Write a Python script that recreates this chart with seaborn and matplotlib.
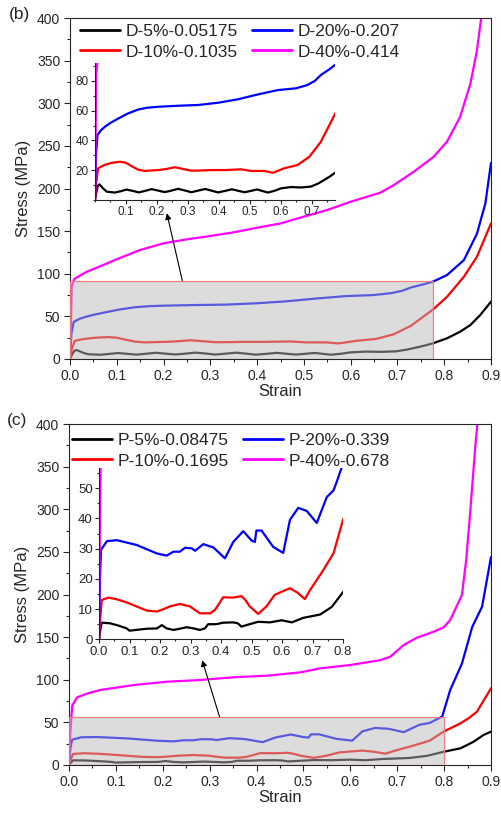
import matplotlib
matplotlib.use("Agg")
import matplotlib.pyplot as plt
import matplotlib.patches as mpatches
from matplotlib.ticker import MultipleLocator, FixedLocator
import seaborn as sns
import pandas as pd

sns.set_style("ticks")
plt.rcParams['font.family'] = ['Liberation Sans', 'DejaVu Sans']
plt.rcParams['axes.linewidth'] = 0.8

# ---------------- data: panel (b) ----------------
labels_b = ["D-5%-0.05175", "D-10%-0.1035", "D-20%-0.207", "D-40%-0.414"]
colors = ["#000000", "#ff0000", "#0000ff", "#ff00ff"]

d5_strain = [0, 0.004, 0.009, 0.0145, 0.025, 0.038, 0.065, 0.085, 0.102, 0.122, 0.142, 0.163,
             0.183, 0.204, 0.225, 0.247, 0.268, 0.29, 0.311, 0.333, 0.356, 0.376, 0.397, 0.42,
             0.442, 0.462, 0.483, 0.503, 0.523, 0.54, 0.558, 0.58, 0.60, 0.633, 0.665, 0.697,
             0.72, 0.74, 0.76, 0.777, 0.806, 0.834, 0.856, 0.877, 0.9]
d5_stress = [0, 5, 9.5, 10.5, 8, 5.6, 5.0, 6.0, 7.0, 6.1, 5.1, 6.2, 7.3, 6.3, 5.3, 6.3, 7.5, 6.4,
             5.2, 6.3, 7.4, 6.3, 5.1, 6.1, 7.2, 6.2, 5.2, 6.1, 7.1, 6.1, 5.0, 6.2, 7.8, 8.7, 8.4,
             9.0, 11, 13.4, 16, 18.6, 24.3, 32, 39.9, 51.6, 67.2]

d10_strain = [0, 0.004, 0.01, 0.03, 0.055, 0.081, 0.1, 0.12, 0.14, 0.161, 0.18, 0.204, 0.23,
              0.258, 0.285, 0.311, 0.34, 0.376, 0.42, 0.472, 0.504, 0.547, 0.574, 0.59, 0.611,
              0.654, 0.692, 0.729, 0.777, 0.806, 0.842, 0.870, 0.9]
d10_stress = [0, 12, 21.3, 23.5, 25, 25.7, 25, 22.5, 20.3, 19.5, 19.8, 20.1, 20.8, 22, 20.8,
              19.7, 19.8, 20.1, 20.1, 20.6, 19.5, 19.5, 18.3, 19.5, 21.3, 23.5, 29, 39, 58.5,
              73, 96.5, 120, 159]

d20_strain = [0, 0.003, 0.008, 0.02, 0.032, 0.05, 0.076, 0.105, 0.14, 0.17, 0.204, 0.268, 0.333,
              0.397, 0.461, 0.526, 0.59, 0.649, 0.686, 0.71, 0.729, 0.755, 0.777, 0.806, 0.842,
              0.87, 0.888, 0.9]
d20_stress = [0, 30, 43.6, 47, 49.2, 51.8, 54.8, 58, 60.8, 62, 62.6, 63.3, 63.8, 65.3, 67.6,
              70.9, 73.8, 75, 77.2, 80, 83.9, 87.5, 91, 98.5, 116, 147, 182.6, 230]

d40_strain = [0, 0.002, 0.0036, 0.0086, 0.02, 0.036, 0.07, 0.1, 0.15, 0.2, 0.25, 0.3, 0.35, 0.4,
              0.45, 0.5, 0.55, 0.6, 0.663, 0.692, 0.735, 0.777, 0.806, 0.834, 0.856, 0.87,
              0.879, 0.886]
d40_stress = [0, 40, 84.8, 93.5, 97.5, 102.4, 110, 117, 127.9, 135.7, 140.4, 144.3, 148.6, 154,
              159, 167, 174.8, 184.5, 195, 204, 219.7, 237, 255, 284, 323, 362, 400, 440]

# ---------------- data: panel (c) ----------------
labels_c = ["P-5%-0.08475", "P-10%-0.1695", "P-20%-0.339", "P-40%-0.678"]

p5_strain = [0, 0.004, 0.009, 0.036, 0.065, 0.091, 0.1, 0.13, 0.157, 0.19, 0.206, 0.222, 0.244,
             0.265, 0.287, 0.31, 0.331, 0.347, 0.358, 0.385, 0.407, 0.44, 0.455, 0.467, 0.494,
             0.522, 0.56, 0.599, 0.632, 0.67, 0.725, 0.763, 0.8, 0.835, 0.863, 0.884, 0.9]
p5_stress = [0, 3, 5.5, 5.3, 4.5, 3.6, 2.85, 3.2, 3.5, 3.6, 4.7, 3.6, 3.1, 3.5, 4.0, 3.6, 3.1,
             3.6, 5.0, 5.0, 5.5, 5.6, 5.3, 4.2, 5.0, 5.8, 5.6, 6.3, 5.6, 7.1, 8.2, 10.7, 15.6,
             19.6, 27.3, 35.2, 39.1]

p10_strain = [0, 0.004, 0.009, 0.031, 0.06, 0.091, 0.125, 0.157, 0.19, 0.212, 0.233, 0.265,
              0.298, 0.315, 0.331, 0.364, 0.38, 0.395, 0.407, 0.44, 0.467, 0.48, 0.494, 0.522,
              0.549, 0.576, 0.6, 0.626, 0.65, 0.675, 0.692, 0.736, 0.769, 0.8, 0.835, 0.852,
              0.87, 0.9]
p10_stress = [0, 7, 13, 13.8, 13.2, 12.2, 10.8, 9.5, 9.2, 10, 10.9, 11.7, 10.9, 9.7, 8.6, 8.6,
              9.7, 12, 13.9, 13.8, 14.3, 13, 10.9, 8.4, 10.9, 14.7, 15.8, 16.9, 15.5, 13.3,
              16.3, 23, 28.5, 39.5, 48.9, 54.8, 62.5, 90]

p20_strain = [0, 0.003, 0.0066, 0.026, 0.059, 0.124, 0.19, 0.222, 0.244, 0.265, 0.282, 0.304,
              0.315, 0.342, 0.375, 0.413, 0.44, 0.473, 0.5, 0.511, 0.516, 0.533, 0.571, 0.604,
              0.626, 0.653, 0.681, 0.714, 0.73, 0.747, 0.769, 0.785, 0.796, 0.813, 0.838, 0.86,
              0.881, 0.9]
p20_stress = [0, 20, 29.6, 32.5, 32.8, 31.2, 28.4, 27.7, 29, 29, 30.3, 30.1, 29.3, 31.5, 30.4,
              26.8, 32.2, 35.8, 32.7, 32.2, 36, 36, 30.6, 28.6, 39.5, 43.5, 42.5, 38.5, 42.7,
              47.1, 49.3, 53.7, 57, 88, 119, 162, 185.7, 244]

p40_strain = [0, 0.003, 0.007, 0.0175, 0.04, 0.067, 0.138, 0.209, 0.28, 0.351, 0.423, 0.494,
              0.536, 0.6, 0.664, 0.685, 0.714, 0.742, 0.778, 0.799, 0.813, 0.838, 0.847, 0.856,
              0.867, 0.871, 0.876]
p40_stress = [0, 40, 70, 79.4, 84, 88, 93.8, 97.7, 99.7, 102.9, 104.8, 108.7, 113.4, 117.3, 123,
              127, 140.8, 149.3, 156.4, 161.5, 170, 199.4, 240, 299, 377, 400, 430]

series_b = [(d5_strain, d5_stress), (d10_strain, d10_stress), (d20_strain, d20_stress), (d40_strain, d40_stress)]
series_c = [(p5_strain, p5_stress), (p10_strain, p10_stress), (p20_strain, p20_stress), (p40_strain, p40_stress)]

main_xlim = (0, 0.9)
main_ylim = (0, 400)
inset_b_xlim = (0, 0.775)
inset_b_ylim = (0, 92)
inset_c_xlim = (0, 0.8)
inset_c_ylim = (0, 56.7)

W, H = 501, 818
fig = plt.figure(figsize=(W / 100, H / 100), dpi=100)

def fax(l, t, r, b):
    return fig.add_axes([l / W, 1 - b / H, (r - l) / W, (b - t) / H])

ax_b = fax(70, 18, 491, 359)
ax_c = fax(69, 424, 491, 765)
in_b = fax(95, 63, 335, 200)
in_c = fax(99, 468, 343, 639.3)

def draw(ax, series, labels, lw):
    for (xs, ys), lab, col in zip(series, labels, colors):
        df = pd.DataFrame({"strain": xs, "stress": ys})
        sns.lineplot(data=df, x="strain", y="stress", ax=ax, color=col, lw=lw,
                     sort=False, estimator=None, label=lab, legend=False)

def style_main(ax):
    ax.set_xlim(*main_xlim)
    ax.set_ylim(*main_ylim)
    ax.xaxis.set_major_locator(MultipleLocator(0.1))
    ax.xaxis.set_minor_locator(MultipleLocator(0.05))
    ax.yaxis.set_major_locator(MultipleLocator(50))
    ax.yaxis.set_minor_locator(MultipleLocator(25))
    ax.tick_params(which='major', direction='out', length=4.5, width=0.8, labelsize=10,
                   top=False, right=False, pad=2.5)
    ax.tick_params(which='minor', direction='out', length=2.5, width=0.8, top=False, right=False)
    ax.set_xticks([round(0.1 * i, 1) for i in range(10)])
    ax.set_xticklabels([f"{0.1 * i:.1f}" for i in range(10)])
    ax.set_xlabel("Strain", fontsize=12, labelpad=1)
    ax.set_ylabel("Stress (MPa)", fontsize=12, labelpad=4)
    for s in ax.spines.values():
        s.set_linewidth(0.8)

def style_inset(ax, xlim, ylim, ymajor, yminor, xmajor_ticks, ymajor_ticks, ls):
    ax.set_xlim(*xlim)
    ax.set_ylim(*ylim)
    ax.set_facecolor('none')
    ax.spines['top'].set_visible(False)
    ax.spines['right'].set_visible(False)
    for s in ['left', 'bottom']:
        ax.spines[s].set_linewidth(0.8)
    ax.xaxis.set_major_locator(FixedLocator(xmajor_ticks))
    ax.xaxis.set_minor_locator(MultipleLocator(0.05))
    ax.yaxis.set_major_locator(FixedLocator(ymajor_ticks))
    ax.yaxis.set_minor_locator(MultipleLocator(yminor))
    ax.xaxis.set_major_formatter(plt.FuncFormatter(lambda v, p: f"{v:.1f}"))
    ax.yaxis.set_major_formatter(plt.FuncFormatter(lambda v, p: f"{v:.0f}"))
    ax.tick_params(which='major', direction='out', length=3, width=0.8, labelsize=ls, pad=1.5)
    ax.tick_params(which='minor', direction='out', length=1.5, width=0.8)
    ax.set_xlabel("")
    ax.set_ylabel("")

draw(ax_b, series_b, labels_b, 1.6)
draw(ax_c, series_c, labels_c, 1.6)
draw(in_b, series_b, labels_b, 1.6)
draw(in_c, series_c, labels_c, 1.6)

style_main(ax_b)
style_main(ax_c)
style_inset(in_b, inset_b_xlim, inset_b_ylim, 20, 10,
            [0.1, 0.2, 0.3, 0.4, 0.5, 0.6, 0.7], [20, 40, 60, 80], 8.5)
style_inset(in_c, inset_c_xlim, inset_c_ylim, 10, 5,
            [0.0, 0.1, 0.2, 0.3, 0.4, 0.5, 0.6, 0.7, 0.8], [0, 10, 20, 30, 40, 50], 9.5)

# shaded zoom rectangles
for ax, xl, yl in [(ax_b, inset_b_xlim, inset_b_ylim), (ax_c, inset_c_xlim, inset_c_ylim)]:
    rect = mpatches.Rectangle((xl[0], yl[0]), xl[1] - xl[0], yl[1] - yl[0],
                              facecolor=(0.725, 0.725, 0.725, 0.49),
                              edgecolor=(1.0, 0.45, 0.45, 0.9), lw=0.9, zorder=5)
    ax.add_patch(rect)

# arrows
ax_b.annotate("", xy=(0.207, 171), xytext=(0.24, inset_b_ylim[1]),
              arrowprops=dict(arrowstyle='-|>', color='k', lw=0.8, mutation_scale=9,
                              shrinkA=0, shrinkB=0), zorder=6)
ax_c.annotate("", xy=(0.284, 123), xytext=(0.321, inset_c_ylim[1]),
              arrowprops=dict(arrowstyle='-|>', color='k', lw=0.8, mutation_scale=9,
                              shrinkA=0, shrinkB=0), zorder=6)

# legends
for ax, (lx, ty) in [(ax_b, (80, 24)), (ax_c, (72, 433))]:
    h, l = ax.get_legend_handles_labels()
    leg = ax.legend(h, l, loc='upper left', bbox_to_anchor=(lx / W, 1 - ty / H),
                    bbox_transform=fig.transFigure, ncol=2, frameon=False, borderpad=0,
                    borderaxespad=0, handlelength=2.3, handletextpad=0.3, columnspacing=0.85,
                    labelspacing=0.3, fontsize=12.5)
    for ln in leg.get_lines():
        ln.set_linewidth(2.0)

fig.text(19 / W, 1 - 15 / H, "(b)", ha='center', va='center', fontsize=12.5)
fig.text(17 / W, 1 - 421 / H, "(c)", ha='center', va='center', fontsize=12.5)

fig.savefig("out.png", dpi=100)
